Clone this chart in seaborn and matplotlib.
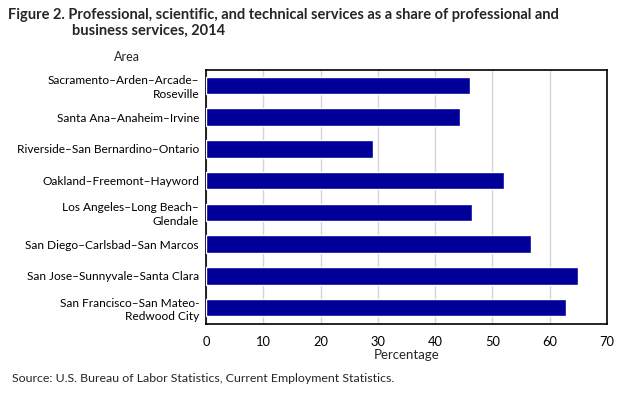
import pandas as pd
import matplotlib
matplotlib.use('Agg')
import matplotlib.pyplot as plt
import seaborn as sns

# Areas, top to bottom as shown
areas = [
    'Sacramento–Arden–Arcade–\nRoseville',
    'Santa Ana–Anaheim–Irvine',
    'Riverside–San Bernardino–Ontario',
    'Oakland–Freemont–Hayword',
    'Los Angeles–Long Beach–\nGlendale',
    'San Diego–Carlsbad–San Marcos',
    'San Jose–Sunnyvale–Santa Clara',
    'San Francisco–San Mateo-\nRedwood City',
]
share = [46.0, 44.4, 29.1, 52.1, 46.5, 56.7, 64.9, 62.9]
x_ticks = [0, 10, 20, 30, 40, 50, 60, 70]

df = pd.DataFrame({'area': areas, 'share': share})

sns.set_theme(style='white')
plt.rcParams['font.family'] = ['Lato', 'DejaVu Sans']

fig = plt.figure(figsize=(6.23, 3.97), dpi=100)
ax = fig.add_axes([206 / 623, 1 - 323.5 / 397, 401 / 623, 254 / 397])

sns.barplot(data=df, x='share', y='area', color='#000099', saturation=1,
            width=0.55, ax=ax, zorder=3)

ax.set_xlim(0, 70)
ax.set_xticks(x_ticks)
ax.xaxis.grid(True, color='#d4d4d4', linewidth=1, zorder=0)
ax.set_axisbelow(True)
ax.tick_params(axis='x', length=0, labelsize=9.3, colors='black', pad=9)
ax.tick_params(axis='y', length=0, labelsize=8.6, colors='black', pad=5)
for lbl in ax.get_yticklabels():
    lbl.set_horizontalalignment('right')
    lbl.set_multialignment('right')
    lbl.set_linespacing(1.3)
ax.set_xlabel('Percentage', fontsize=9.5, labelpad=1)
ax.set_ylabel('')
for s in ax.spines.values():
    s.set_visible(True)
    s.set_color('black')
    s.set_linewidth(1.2)

fig.text(8 / 623, 1 - 15 / 397,
         'Figure 2. Professional, scientific, and technical services as a share of professional and',
         fontsize=10.5, fontweight='bold', va='center', ha='left')
fig.text(72 / 623, 1 - 31 / 397, 'business services, 2014',
         fontsize=10.5, fontweight='bold', va='center', ha='left')
fig.text(127 / 623, 1 - 57 / 397, 'Area', fontsize=9, va='center', ha='center')
fig.text(12 / 623, 1 - 378 / 397,
         'Source: U.S. Bureau of Labor Statistics, Current Employment Statistics.',
         fontsize=8.9, va='center', ha='left')

fig.savefig('out.png', dpi=100)
